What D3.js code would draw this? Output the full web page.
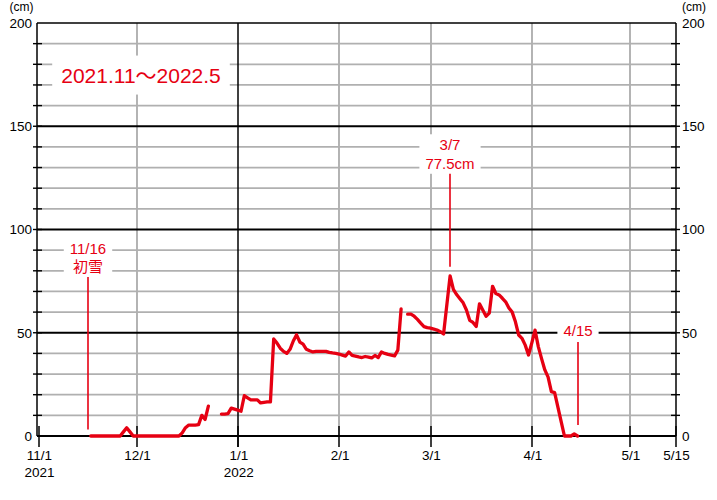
<!DOCTYPE html>
<html><head><meta charset="utf-8">
<script src="https://cdn.jsdelivr.net/npm/d3@7"></script>
<style>body{margin:0;background:#fff}svg{display:block}text{font-family:"Liberation Sans","Noto Sans CJK JP",sans-serif}</style>
</head><body>
<svg id="c" width="717" height="500"></svg>
<script>
// ---- data ----
const title = "2021.11～2022.5";
const unitLabel = "(cm)";
const startDate = "2021-11-17";           // first daily reading
const depth = [
  0,0,0,0,0,0,0,0,0,
  0,2,4,2,0,
  0,0,0,0,0,0,0,0,0,0,0,0,0,0,
  1.5,4,5.3,5.3,5.3,5.5,10,8,14.5,
  null,null,null,
  10.6,10.6,10.8,13.5,13,12.5,12,19.5,18.5,17.5,17.5,17.5,16,16.3,16.5,16.5,
  47,45,42.5,41,40,42,46,49,45.5,44.5,42,41.3,40.7,
  41,41,41,41,40.5,40.2,40,39.7,39.2,38.7,
  40.7,39,38.7,38.3,38,38.5,38.2,37.8,39,38,
  40.7,40,39.5,39.2,38.8,41.6,61.5,
  null,
  59,59,58,56.5,54.7,53,52.5,52.2,51.8,51.3,50.5,49.4,63.5,77.5,
  71,68.5,66.5,64.5,61,56,55,53,64,61,58,59.5,72.5,69,
  68.3,66.7,65,62,60,55.3,48.9,47.3,44,39.2,45,51.3,
  43.3,37.5,32,28.5,21.5,21,14,7,0,0,0,1,0
];
const yTickValues = [0,50,100,150,200];
const tickDates = ["2021-11-01","2021-12-01","2022-01-01","2022-02-01","2022-03-01","2022-04-01","2022-05-01","2022-05-15"];
const tickLabels = ["11/1","12/1","1/1","2/1","3/1","4/1","5/1","5/15"];
const yearLabels = ["2021","","2022","","","","",""];
const annoDates = ["2021-11-16","2022-03-07","2022-04-15"];
const annoTexts = [["11/16","初雪"],["3/7","77.5cm"],["4/15"]];

// ---- layout ----
const parse=d3.utcParse("%Y-%m-%d");
const x=d3.scaleUtc().domain([parse("2021-11-01"),parse("2022-05-15")]).range([38.5,675.5]);
const y=d3.scaleLinear().domain([0,200]).range([436,23]);
const L=37,R=676,T=y(200),B=y(0);
const RED="#e60012",GRAY="#b0b0b0";
const svg=d3.select("#c");

// horizontal gray grid
const minor=d3.range(10,200,10).filter(v=>v%50!==0);
svg.append("g").selectAll("line").data(minor).join("line")
  .attr("x1",L).attr("x2",R).attr("y1",d=>y(d)).attr("y2",d=>y(d))
  .attr("stroke",GRAY).attr("stroke-width",1.7);
// vertical gray grid
const grayV=tickDates.filter((d,i)=>i>0&&i<tickDates.length-1&&d!=="2022-01-01");
svg.append("g").selectAll("line").data(grayV).join("line")
  .attr("x1",d=>Math.round(x(parse(d)))).attr("x2",d=>Math.round(x(parse(d))))
  .attr("y1",T).attr("y2",B).attr("stroke",GRAY).attr("stroke-width",1.9);
// major horizontal black lines
svg.append("g").selectAll("line").data([50,100,150,200]).join("line")
  .attr("x1",L).attr("x2",R).attr("y1",d=>y(d)).attr("y2",d=>y(d))
  .attr("stroke","#000").attr("stroke-width",d=>d===200?1.4:1.8);
// year boundary
const xj=Math.round(x(parse("2022-01-01")));
svg.append("line").attr("x1",xj).attr("x2",xj).attr("y1",T).attr("y2",B+11).attr("stroke","#000").attr("stroke-width",1.5);
// axes frame
svg.append("line").attr("x1",L).attr("x2",L).attr("y1",T).attr("y2",B).attr("stroke","#000").attr("stroke-width",1.5);
svg.append("line").attr("x1",R).attr("x2",R).attr("y1",T).attr("y2",B).attr("stroke","#000").attr("stroke-width",1.5);
svg.append("line").attr("x1",L).attr("x2",R).attr("y1",B).attr("y2",B).attr("stroke","#000").attr("stroke-width",1.8);
// y ticks every 10
const allY=d3.range(10,200,10);
svg.append("g").selectAll("line").data(allY).join("line")
  .attr("x1",L-4).attr("x2",L+5).attr("y1",d=>y(d)).attr("y2",d=>y(d)).attr("stroke","#000").attr("stroke-width",1.4);
svg.append("g").selectAll("line").data(allY).join("line")
  .attr("x1",R-5).attr("x2",R+4).attr("y1",d=>y(d)).attr("y2",d=>y(d)).attr("stroke","#000").attr("stroke-width",1.4);
// x ticks
svg.append("g").selectAll("line").data(tickDates).join("line")
  .attr("x1",d=>Math.round(x(parse(d)))).attr("x2",d=>Math.round(x(parse(d))))
  .attr("y1",B-10).attr("y2",B+11).attr("stroke","#000").attr("stroke-width",1.5);

// y labels
const yl=svg.append("g").attr("font-size",13.5).attr("fill","#000");
yl.selectAll("text.l").data(yTickValues).join("text").attr("class","l")
  .attr("x",32).attr("y",d=>y(d)).attr("dy","0.36em").attr("text-anchor","end").text(d=>d);
yl.selectAll("text.r").data(yTickValues).join("text").attr("class","r")
  .attr("x",682).attr("y",d=>y(d)).attr("dy","0.36em").attr("text-anchor","start").text(d=>d);
yl.append("text").attr("x",21.5).attr("y",11).attr("font-size",12).attr("text-anchor","middle").text(unitLabel);
yl.append("text").attr("x",694).attr("y",11).attr("font-size",12).attr("text-anchor","middle").text(unitLabel);
// x labels
const xl=svg.append("g").attr("font-size",13.5).attr("fill","#000").attr("text-anchor","middle");
xl.selectAll("text.m").data(tickDates).join("text").attr("class","m")
  .attr("x",d=>x(parse(d))+1).attr("y",455).attr("dy","0.36em").text((d,i)=>tickLabels[i]);
xl.selectAll("text.y").data(tickDates).join("text").attr("class","y")
  .attr("x",d=>x(parse(d))+1).attr("y",472).attr("dy","0.36em").text((d,i)=>yearLabels[i]);

// data line
const start=parse(startDate);
const pts=depth.map((v,i)=>({date:d3.utcDay.offset(start,i),v}));
const line=d3.line().defined(d=>d.v!==null).x(d=>x(d.date)).y(d=>y(d.v));
svg.append("path").datum(pts).attr("d",line).attr("fill","none").attr("stroke",RED)
  .attr("stroke-width",3.3).attr("stroke-linejoin","round").attr("stroke-linecap","round");

// labels with white background
function boxedText(lines,cx,y0,size,lh,padX,padY){
  const g=svg.append("g");
  const rect=g.append("rect").attr("fill","#fff");
  const ts=lines.map((s,i)=>g.append("text").attr("font-size",size).attr("fill",RED).attr("text-anchor","middle")
    .attr("x",cx).attr("y",y0+i*lh).attr("dy","0.36em").text(s));
  let x0=1e9,x1=-1e9,yA=1e9,yB=-1e9;
  ts.forEach(t=>{const b=t.node().getBBox();x0=Math.min(x0,b.x);x1=Math.max(x1,b.x+b.width);yA=Math.min(yA,b.y);yB=Math.max(yB,b.y+b.height);});
  rect.attr("x",x0-padX).attr("y",yA-padY).attr("width",x1-x0+2*padX).attr("height",yB-yA+2*padY);
  return g;
}
// title
boxedText([title],141,75,21,0,9,8);
// annotations: [label centre (cm), line top (cm), line bottom (cm)]
const annoLayout=[[86.4,77,3.2],[136.5,127,82],[50.8,45.5,5.3]];
annoDates.forEach((d,i)=>{
  const cx=Math.round(x(parse(d)));
  const [lv,t0,t1]=annoLayout[i];
  const n=annoTexts[i].length;
  const lh=18.5;
  const y0=y(lv)-(n-1)*lh/2;
  boxedText(annoTexts[i],cx,y0,15,lh,6,2);
  svg.append("line").attr("x1",cx).attr("x2",cx).attr("y1",y(t0)).attr("y2",y(t1))
    .attr("stroke",RED).attr("stroke-width",1.6);
});
</script>
</body></html>
